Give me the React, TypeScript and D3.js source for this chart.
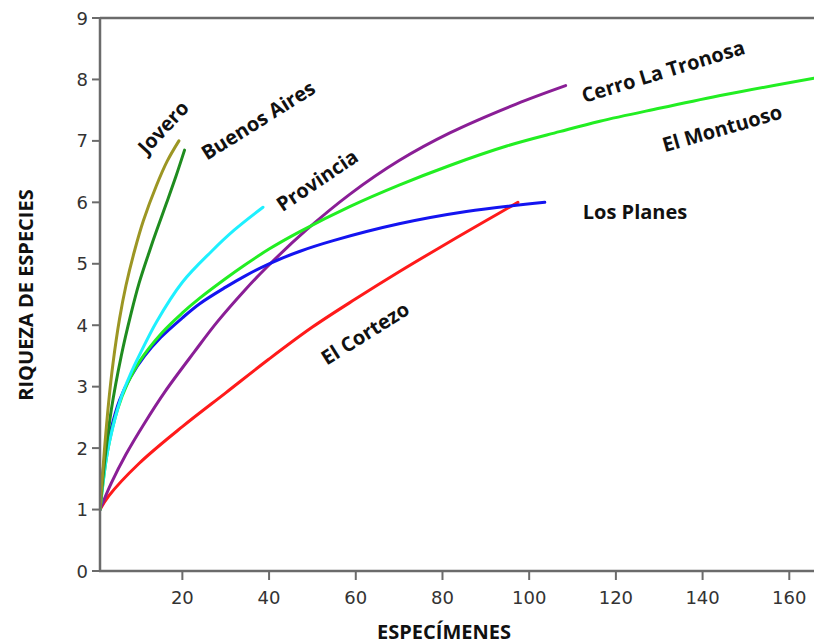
import React from "react";
import * as d3 from "d3";

// ---- data (x = especímenes, y = riqueza de especies) ----
const joveroX = [1, 2, 3, 4, 5.5, 7, 9, 11, 14, 16.5, 19.2];
const joveroY = [1, 1.95, 2.75, 3.38, 4.1, 4.65, 5.22, 5.7, 6.27, 6.67, 7.0];

const buenosAiresX = [1, 2.1, 3.6, 5.9, 8.2, 10, 12.3, 14, 16.3, 18.5, 20.5];
const buenosAiresY = [1, 1.8, 2.62, 3.5, 4.2, 4.68, 5.18, 5.53, 5.98, 6.42, 6.85];

const provinciaX = [1, 2.5, 4, 6, 8, 10, 14, 20, 26.7, 32, 38.6];
const provinciaY = [1, 1.85, 2.35, 2.85, 3.2, 3.5, 4.05, 4.7, 5.2, 5.55, 5.92];

const tronosaX = [1, 3.6, 7, 11.3, 16, 22.8, 28, 34.4, 39.4, 48.6, 58.6, 70, 81.7, 97, 108.4];
const tronosaY = [1, 1.43, 1.9, 2.41, 2.92, 3.57, 4.05, 4.57, 4.94, 5.55, 6.13, 6.68, 7.13, 7.6, 7.9];

const montuosoX = [1, 2.8, 5, 7.4, 10, 15.2, 20, 24, 30, 34.4, 40, 47, 58.6, 70, 81.7, 95, 107, 116.3, 130, 145, 165.7];
const montuosoY = [1, 1.97, 2.62, 3.06, 3.4, 3.87, 4.2, 4.44, 4.76, 4.98, 5.24, 5.52, 5.93, 6.28, 6.6, 6.92, 7.15, 7.32, 7.53, 7.75, 8.02];

const planesX = [1, 2, 3.5, 5.5, 8, 11.3, 15, 20, 24, 30, 34.4, 40, 47, 55, 70, 85.5, 103.6];
const planesY = [1, 1.8, 2.3, 2.78, 3.15, 3.5, 3.8, 4.12, 4.35, 4.62, 4.8, 5.0, 5.2, 5.38, 5.65, 5.85, 6.0];

const cortezoX = [1, 3, 10, 20, 30, 40, 50, 60, 70, 80, 90, 97.4];
const cortezoY = [1, 1.22, 1.75, 2.35, 2.9, 3.45, 3.97, 4.43, 4.87, 5.29, 5.7, 6.0];

const xTicks = [20, 40, 60, 80, 100, 120, 140, 160];
const yTicks = [0, 1, 2, 3, 4, 5, 6, 7, 8, 9];

const seriesNames = ["Jovero", "Buenos Aires", "Provincia", "Cerro La Tronosa", "El Montuoso", "Los Planes", "El Cortezo"];
const seriesX = [joveroX, buenosAiresX, provinciaX, tronosaX, montuosoX, planesX, cortezoX];
const seriesY = [joveroY, buenosAiresY, provinciaY, tronosaY, montuosoY, planesY, cortezoY];

// ---- styles ----
const colors = ["#9c9624", "#1f8c1f", "#1ef0ff", "#8a1e96", "#22ee22", "#1414f0", "#ff1a1a"];
const drawOrder = [6, 3, 5, 4, 2, 1, 0];

const labelStyle = [
  { cx: 163, cy: 127, rot: -47 },
  { cx: 258, cy: 120, rot: -32 },
  { cx: 317, cy: 180, rot: -34 },
  { cx: 663, cy: 71, rot: -17 },
  { cx: 722, cy: 128, rot: -16 },
  { cx: 635, cy: 211, rot: 0 },
  { cx: 365, cy: 333, rot: -32 },
];

const W = 814;
const H = 643;
const left = 100;
const right = 814;
const top = 18;
const bottom = 571;

export default function App() {
  const x = d3.scaleLinear().domain([1, 165.7]).range([left, right]);
  const y = d3.scaleLinear().domain([0, 9]).range([bottom, top]);
  const line = d3
    .line<[number, number]>()
    .x((d) => x(d[0]))
    .y((d) => y(d[1]))
    .curve(d3.curveCatmullRom.alpha(0.5));

  const axisColor = "#6b6b6b";
  const tickFont = "'DejaVu Sans', Verdana, sans-serif";
  const labelFont = "'Open Sans', 'Noto Sans', sans-serif";

  return (
    <div style={{ position: "absolute", left: 0, top: 0 }}>
      <svg width={W} height={H} style={{ display: "block", background: "#fff" }}>
        <defs>
          <clipPath id="plotclip">
            <rect x={left} y={top - 5} width={right - left} height={bottom - top + 10} />
          </clipPath>
        </defs>
        <g clipPath="url(#plotclip)">
          {drawOrder.map((i) => {
            const pts: [number, number][] = seriesX[i].map((v, k) => [v, seriesY[i][k]]);
            return (
              <path
                key={i}
                d={line(pts) || ""}
                fill="none"
                stroke={colors[i]}
                strokeWidth={3}
                strokeLinecap="round"
              />
            );
          })}
        </g>
        <line x1={left} x2={right} y1={top} y2={top} stroke={axisColor} strokeWidth={2.5} />
        <line x1={left} x2={left} y1={top - 1} y2={bottom + 1} stroke={axisColor} strokeWidth={2.5} />
        <line x1={left - 1} x2={right} y1={bottom} y2={bottom} stroke={axisColor} strokeWidth={2.5} />
        {yTicks.map((t) => (
          <g key={"y" + t}>
            <line x1={left - 8} x2={left} y1={y(t)} y2={y(t)} stroke={axisColor} strokeWidth={2} />
            <text
              x={left - 12}
              y={y(t)}
              textAnchor="end"
              dominantBaseline="central"
              fontFamily={tickFont}
              fontSize={18}
              fill="#333"
            >
              {t}
            </text>
          </g>
        ))}
        {xTicks.map((t) => (
          <g key={"x" + t}>
            <line x1={x(t)} x2={x(t)} y1={bottom} y2={bottom + 9} stroke={axisColor} strokeWidth={2} />
            <text
              x={x(t)}
              y={bottom + 26}
              textAnchor="middle"
              dominantBaseline="central"
              fontFamily={tickFont}
              fontSize={18}
              fill="#333"
            >
              {t}
            </text>
          </g>
        ))}
        <text
          x={444}
          y={631}
          textAnchor="middle"
          dominantBaseline="central"
          fontFamily={labelFont}
          fontWeight="bold"
          fontSize={20}
          fill="#111"
        >
          ESPECÍMENES
        </text>
        <text
          transform={`translate(25,295) rotate(-90)`}
          textAnchor="middle"
          dominantBaseline="central"
          fontFamily={labelFont}
          fontWeight="bold"
          fontSize={20}
          fill="#111"
        >
          RIQUEZA DE ESPECIES
        </text>
        {seriesNames.map((n, i) => {
          const s = labelStyle[i];
          return (
            <text
              key={"l" + i}
              transform={`translate(${s.cx},${s.cy}) rotate(${s.rot})`}
              textAnchor="middle"
              dominantBaseline="central"
              fontFamily={labelFont}
              fontWeight="bold"
              fontSize={20}
              fill="#111"
            >
              {n}
            </text>
          );
        })}
      </svg>
    </div>
  );
}
